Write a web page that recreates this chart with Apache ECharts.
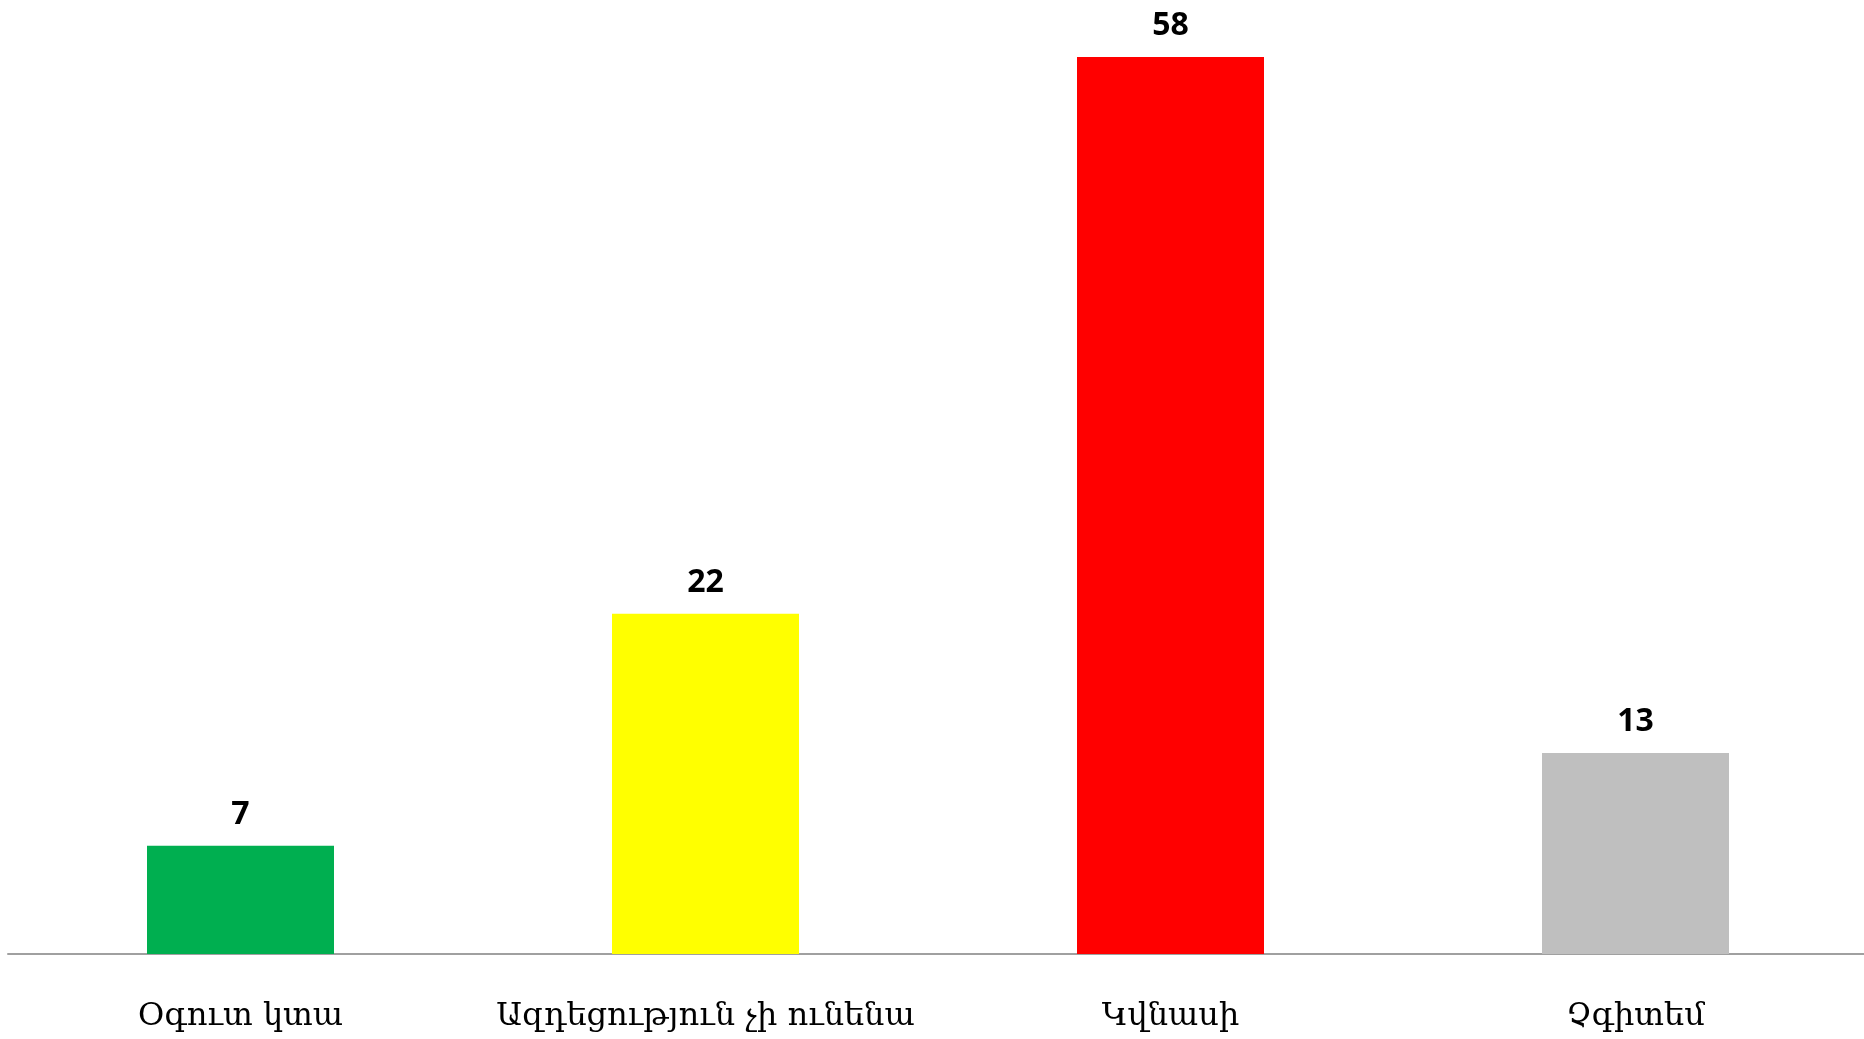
<!DOCTYPE html>
<html>
<head>
<meta charset="utf-8">
<script src="https://cdn.jsdelivr.net/npm/echarts@6/dist/echarts.min.js"></script>
<style>
  html, body { margin: 0; padding: 0; background: #ffffff; }
  #chart { width: 1864px; height: 1039px; }
</style>
</head>
<body>
<div id="chart"></div>
<script>
// Survey answers and their shares
const categories = ['Օգուտ կտա', 'Ազդեցություն չի ունենա', 'Կվնասի', 'Չգիտեմ'];
const values = [7, 22, 58, 13];
const barColors = ['#00AF50', '#FFFF00', '#FF0000', '#BFBFBF'];

const chart = echarts.init(document.getElementById('chart'));

chart.setOption({
  backgroundColor: '#ffffff',
  animation: false,
  grid: {
    left: 8,
    width: 1860,
    top: 26,
    bottom: 85,
    containLabel: false,
    outerBoundsMode: 'none'
  },
  xAxis: {
    type: 'category',
    data: categories,
    axisLine: { lineStyle: { color: '#A0A0A0', width: 2 } },
    axisTick: { show: false },
    axisLabel: {
      interval: 0,
      margin: 47,
      color: '#000000',
      fontFamily: 'DejaVu Serif',
      fontSize: 32
    }
  },
  yAxis: {
    type: 'value',
    min: 0,
    max: 60,
    show: false,
    splitLine: { show: false }
  },
  series: [{
    type: 'bar',
    barWidth: 187,
    data: values.map((v, i) => ({ value: v, itemStyle: { color: barColors[i] } })),
    label: {
      show: true,
      position: 'top',
      distance: 15,
      color: '#000000',
      fontFamily: 'Open Sans',
      fontWeight: 'bold',
      fontSize: 32
    }
  }]
});
</script>
</body>
</html>
